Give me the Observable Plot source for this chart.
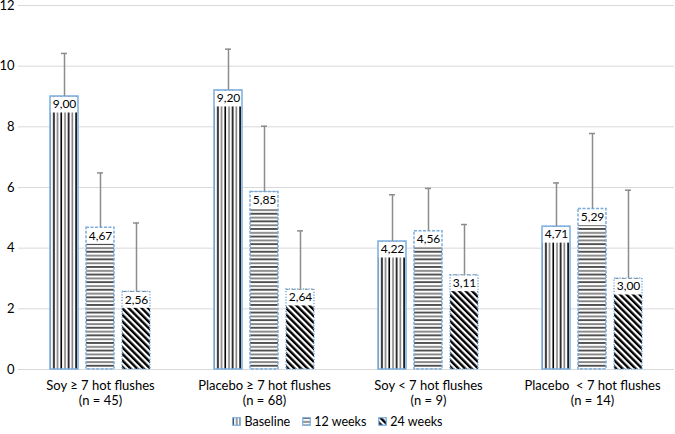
<!DOCTYPE html>
<html><head><meta charset="utf-8">
<script src="https://cdn.jsdelivr.net/npm/d3@7"></script>
<script src="https://cdn.jsdelivr.net/npm/@observablehq/plot@0.6"></script>
<style>
body{margin:0;background:#fff;font-family:Lato,"Open Sans",sans-serif;}
#chart svg{display:block}
#legend{display:flex;justify-content:center;align-items:center;height:26px;font-size:12.5px;color:#000}
.item{display:flex;align-items:center;margin:0 6px}
.item svg{margin-right:3px}
</style></head><body>
<svg width="0" height="0" style="position:absolute">
<defs>
<pattern id="pBase" patternUnits="userSpaceOnUse" width="7.4" height="4">
 <rect x="0" y="0" width="7.4" height="4" fill="#fff"/>
 <rect x="0.3" y="0" width="1.6" height="4" fill="#000"/>
 <rect x="4" y="0" width="1.6" height="4" fill="#7f7f7f"/>
</pattern>
<pattern id="p12" patternUnits="userSpaceOnUse" width="4" height="7.6">
 <rect x="0" y="0" width="4" height="7.6" fill="#fff"/>
 <rect x="0" y="0.3" width="4" height="1.3" fill="#000"/>
 <rect x="0" y="4" width="4" height="1.8" fill="#7f7f7f"/>
</pattern>
<pattern id="p24" patternUnits="userSpaceOnUse" width="4.6" height="4.6" patternTransform="rotate(-45)">
 <rect x="0" y="0" width="4.6" height="4.6" fill="#fff"/>
 <rect x="0" y="0" width="2.4" height="4.6" fill="#000"/>
</pattern>
</defs>
</svg>
<div id="chart"></div>
<div id="legend"></div>
<script>
const groups = ["Soy ≥ 7 hot flushes\n(n = 45)", "Placebo ≥ 7 hot flushes\n(n = 68)", "Soy < 7 hot flushes\n(n = 9)", "Placebo\u00a0 < 7 hot flushes\n(n = 14)"];
const series = ["Baseline", "12 weeks", "24 weeks"];
const baseline = [9.00, 9.20, 4.22, 4.71];
const week12 = [4.67, 5.85, 4.56, 5.29];
const week24 = [2.56, 2.64, 3.11, 3.00];
const baselineErr = [1.42, 1.36, 1.54, 1.44];
const week12Err = [1.81, 2.17, 1.41, 2.49];
const week24Err = [2.27, 1.93, 1.67, 2.91];
const yTicks = [0, 2, 4, 6, 8, 10, 12];

const values = [baseline, week12, week24];
const errs = [baselineErr, week12Err, week24Err];
const data = [];
groups.forEach((g, i) => series.forEach((s, j) => data.push({group: g, series: s, value: values[j][i], err: errs[j][i]})));

const fills = {"Baseline": "url(#pBase)", "12 weeks": "url(#p12)", "24 weeks": "url(#p24)"};
const dashes = {"Baseline": undefined, "12 weeks": "3,1.5", "24 weeks": "1.2,1.6"};
const blue = "#7aaee0";
const errColor = "#8c8c8c";

const marks = [
  Plot.gridY(yTicks, {stroke: "#d9d9d9", strokeOpacity: 1, strokeWidth: 1}),
  Plot.axisY(yTicks, {tickSize: 0, tickPadding: 4, fontSize: 13, label: null})
];
for (const s of series) {
  const sub = data.filter(d => d.series === s);
  marks.push(Plot.barY(sub, {fx: "group", x: "series", y: "value", fill: fills[s]}));
}
marks.push(Plot.tickY(data, {fx: "group", x: "series", y: "value", stroke: "white", strokeWidth: 16, dy: 8}));
for (const s of series) {
  const sub = data.filter(d => d.series === s);
  marks.push(Plot.barY(sub, {fx: "group", x: "series", y: "value", fill: "none", stroke: blue, strokeWidth: 1.5, strokeDasharray: dashes[s]}));
}
marks.push(
  Plot.ruleX(data, {fx: "group", x: "series", y1: "value", y2: d => d.value + d.err, stroke: errColor, strokeWidth: 1.5}),
  Plot.tickY(data, {fx: "group", x: "series", y: d => d.value + d.err, stroke: errColor, strokeWidth: 1.5, insetLeft: 11, insetRight: 11}),
  Plot.text(data, {fx: "group", x: "series", y: "value", text: d => d.value.toFixed(2).replace(".", ","), dy: 8, fontSize: 12, fill: "#000"}),
  Plot.axisFx({anchor: "bottom", tickSize: 0, tickPadding: 9, fontSize: 13, lineHeight: 1.2, label: null})
);

const chart = Plot.plot({
  width: 675,
  height: 408,
  marginLeft: 17,
  marginRight: 1,
  marginTop: 5,
  marginBottom: 39,
  style: {fontFamily: "Lato, 'Open Sans', sans-serif", color: "#000", background: "#fff"},
  fx: {domain: groups, padding: 0},
  x: {domain: series, paddingInner: 0.21, paddingOuter: 0.84, axis: null},
  y: {domain: [0, 12]},
  marks
});
document.getElementById("chart").appendChild(chart);

const legend = document.getElementById("legend");
for (const s of series) {
  const item = document.createElement("div");
  item.className = "item";
  item.innerHTML = `<svg width="9" height="9"><rect x="0.75" y="0.75" width="7.5" height="7.5" fill="${fills[s]}" stroke="${blue}" stroke-width="1.2"/></svg><span>${s}</span>`;
  legend.appendChild(item);
}
</script>
</body></html>
